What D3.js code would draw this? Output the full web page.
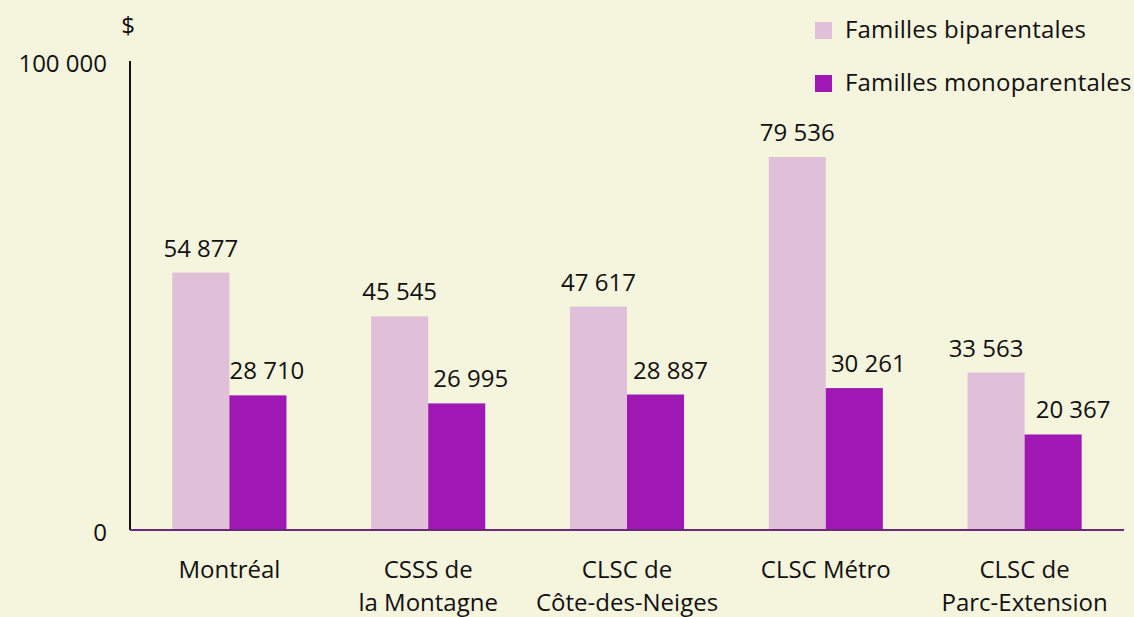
<!DOCTYPE html>
<html>
<head>
<meta charset="utf-8">
<script src="https://cdn.jsdelivr.net/npm/d3@7"></script>
<style>
  html, body { margin: 0; padding: 0; background: #f5f4dd; }
  svg { display: block; font-family: "Open Sans", sans-serif; }
</style>
</head>
<body>
<svg id="chart" width="1134" height="617"></svg>
<script>
// ---- data ----
const categories = [["Montréal"], ["CSSS de", "la Montagne"], ["CLSC de", "Côte-des-Neiges"], ["CLSC Métro"], ["CLSC de", "Parc-Extension"]];
const seriesNames = ["Familles biparentales", "Familles monoparentales"];
const biparentales = [54877, 45545, 47617, 79536, 33563];
const monoparentales = [28710, 26995, 28887, 30261, 20367];
const yTicks = [0, 100000];
const yTickLabels = ["0", "100 000"];
const yUnit = "$";

// ---- layout / style (not data) ----
const colors = ["#e0c0d8", "#a018b4"];
const labelNudgeBi = [0, 0, 0, 0, -10];
const labelNudgeMono = [9, 14, 15, 14, 20];
const W = 1134, H = 617;
const x0 = 130, x1 = 1124, yTop = 61, yBase = 530;
const FS = 24;
const fmt = v => d3.format(",")(v).replace(/,/g, " ");

const svg = d3.select("#chart");
svg.append("rect").attr("width", W).attr("height", H).attr("fill", "#f5f4dd");

const x = d3.scaleBand().domain(d3.range(categories.length)).range([x0, x1])
  .paddingInner(0.426).paddingOuter(0.213);
const xs = d3.scaleBand().domain([0, 1]).range([0, x.bandwidth()]);
const y = d3.scaleLinear().domain([0, 100000]).range([yBase, yTop]);

const series = [biparentales, monoparentales];
const nudges = [labelNudgeBi, labelNudgeMono];

// bars
series.forEach((vals, s) => {
  svg.append("g").selectAll("rect").data(vals).join("rect")
    .attr("x", (d, i) => x(i) + xs(s))
    .attr("y", d => y(d))
    .attr("width", xs.bandwidth())
    .attr("height", d => y(0) - y(d))
    .attr("fill", colors[s]);
});

// value labels
series.forEach((vals, s) => {
  svg.append("g").selectAll("text").data(vals).join("text")
    .attr("x", (d, i) => x(i) + xs(s) + xs.bandwidth() / 2 + nudges[s][i])
    .attr("y", d => y(d) - 16)
    .attr("text-anchor", "middle")
    .attr("font-size", FS)
    .attr("fill", "#111")
    .text(d => fmt(d));
});

// y axis line
svg.append("line").attr("x1", x0).attr("x2", x0).attr("y1", y(100000)).attr("y2", y(0))
  .attr("stroke", "#111").attr("stroke-width", 2);
// x axis line
svg.append("line").attr("x1", x0).attr("x2", x1).attr("y1", y(0)).attr("y2", y(0))
  .attr("stroke", "#6b2a78").attr("stroke-width", 2);

// y tick labels
svg.append("g").selectAll("text").data(yTicks).join("text")
  .attr("x", 107)
  .attr("y", d => y(d) + 11)
  .attr("text-anchor", "end")
  .attr("font-size", FS)
  .attr("fill", "#111")
  .text((d, i) => yTickLabels[i]);

svg.append("text").attr("x", 128).attr("y", 34).attr("text-anchor", "middle")
  .attr("font-size", FS).attr("fill", "#111").text(yUnit);

// category labels
const cat = svg.append("g").selectAll("text").data(categories).join("text")
  .attr("x", (d, i) => x(i) + x.bandwidth() / 2)
  .attr("y", 578)
  .attr("text-anchor", "middle")
  .attr("font-size", FS)
  .attr("fill", "#111");
cat.selectAll("tspan").data(d => d).join("tspan")
  .attr("x", function () { return d3.select(this.parentNode).attr("x"); })
  .attr("dy", (d, j) => j === 0 ? 0 : 33)
  .text(d => d);

// legend
const leg = svg.append("g").selectAll("g").data(seriesNames).join("g")
  .attr("transform", (d, i) => `translate(815, ${22 + i * 53})`);
leg.append("rect").attr("width", 17).attr("height", 17).attr("fill", (d, i) => colors[i]);
leg.append("text").attr("x", 30).attr("y", 16).attr("font-size", FS).attr("fill", "#111")
  .attr("letter-spacing", 0.2).text(d => d);
</script>
</body>
</html>
